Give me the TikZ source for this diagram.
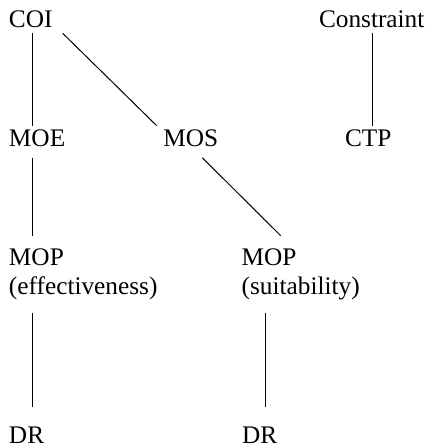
\documentclass[tikz,border=0pt]{standalone}
\usepackage{fontspec}
\setmainfont{Liberation Serif}
\begin{document}
\begin{tikzpicture}[x=1pt,y=-1pt,
  lbl/.style={inner sep=0pt, outer sep=0pt, font=\fontsize{25.3}{29}\selectfont, anchor=base west, align=left},
  conn/.style={line width=1pt}]
\useasboundingbox (0,0) rectangle (429,447);
\node[lbl] (coi) at (9,27.3) {COI};
\node[lbl] (cons) at (319,27.3) {Constraint};
\node[lbl] (moe) at (9,146) {MOE};
\node[lbl] (mos) at (163.3,146) {MOS};
\node[lbl] (ctp) at (345,146) {CTP};
\node[lbl, anchor=north west] (mopE) at (9,248.6) {MOP\\(effectiveness)};
\node[lbl, anchor=north west] (mopS) at (241.7,248.6) {MOP\\(suitability)};
\node[lbl] (drE) at (9,443) {DR};
\node[lbl] (drS) at (242,443) {DR};
\draw[conn] ([shift={(23,6)}]coi.base west) -- ([shift={(23,-20.3)}]moe.base west);
\draw[conn] ([shift={(53.7,6)}]coi.base west) -- ([shift={(-6.6,-20.3)}]mos.base west);
\draw[conn] ([shift={(53.7,6)}]cons.base west) -- ([shift={(27.7,-20.3)}]ctp.base west);
\draw[conn] ([shift={(23,11.7)}]moe.base west) -- ([shift={(23,-12.9)}]mopE.north west);
\draw[conn] ([shift={(39,11.7)}]mos.base west) -- ([shift={(39,-12.9)}]mopS.north west);
\draw[conn] ([shift={(23,64.7)}]mopE.north west) -- ([shift={(23,-36.3)}]drE.base west);
\draw[conn] ([shift={(23.3,64.7)}]mopS.north west) -- ([shift={(23,-36.3)}]drS.base west);
\end{tikzpicture}
\end{document}
